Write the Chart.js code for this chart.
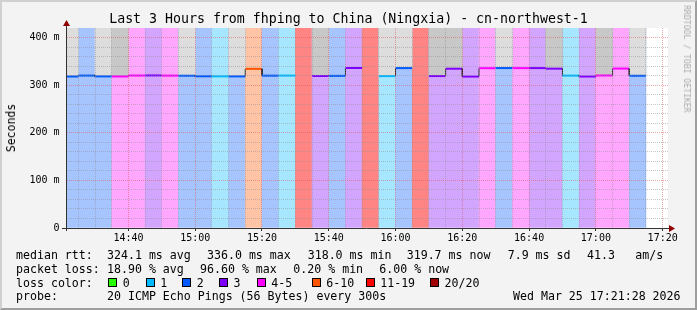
<!DOCTYPE html>
<html>
<head>
<meta charset="utf-8">
<script src="https://cdn.jsdelivr.net/npm/chart.js"></script>
<style>
  body { margin: 0; }
  #frame { position: absolute; left: 0; top: 0; width: 697px; height: 310px; box-sizing: border-box;
           background: #f3f3f3; border-style: solid; border-width: 2px;
           border-color: #d0d0d0 #9e9e9e #9e9e9e #d0d0d0; }
  #plot { position: absolute; left: 0; top: 0; }
  .t { position: absolute; font-family: 'DejaVu Sans Mono', monospace; white-space: pre; line-height: normal; color: #000; }
  .box { position: absolute; width: 9px; height: 9px; box-sizing: border-box; border: 1px solid #000; }
</style>
</head>
<body>
<div id="frame"></div>
<canvas id="plot" width="697" height="310"></canvas>
<div id="texts"></div>
<script>
// 5 minute slots (start time of each rrd step)
const slotLabels = ['14:20','14:25','14:30','14:35','14:40','14:45','14:50','14:55',
  '15:00','15:05','15:10','15:15','15:20','15:25','15:30','15:35','15:40','15:45','15:50','15:55',
  '16:00','16:05','16:10','16:15','16:20','16:25','16:30','16:35','16:40','16:45','16:50','16:55',
  '17:00','17:05','17:10'];
// median rtt in ms (null = 100% loss)
const medianRtt = [318.2, 320.1, 318.4, 318.3, 320.2, 320.4, 320.0, 319.8,
  318.6, 318.5, 318.4, 334.2, 319.9, 320.1, null, 319.2, 319.5, 336.0, null, 319.0,
  335.8, null, 319.1, 334.5, 318.0, 335.6, 335.9, 335.7, 335.8, 334.6, 320.0, 318.1,
  320.3, 334.8, 319.7];
// loss class per slot (index into lossLabels)
const lossBin = [2, 2, 2, 4, 4, 3, 4, 2, 2, 1, 2, 5, 2, 1, 7, 3, 2, 3, 7, 1,
  2, 7, 3, 3, 3, 4, 2, 4, 3, 3, 1, 3, 4, 4, 2];
// smoke above the median: 0 none, 1 light, 2 dark
const smokeShade = [1, 0, 1, 2, 0, 0, 0, 1, 0, 0, 1, 0, 0, 0, 0, 2, 0, 0, 0, 1,
  1, 0, 2, 2, 0, 0, 1, 0, 0, 2, 0, 0, 2, 0, 1];
const xTickLabels = ['14:40','15:00','15:20','15:40','16:00','16:20','16:40','17:00','17:20'];
const yTickValues = [0, 100, 200, 300, 400];
const lossLabels = ['0', '1', '2', '3', '4-5', '6-10', '11-19', '20/20'];

const lossColors = ['#26ff00', '#00b8ff', '#0059ff', '#7e00ff', '#ff00ff', '#ff5500', '#ff0000', '#a10000'];
const fillColors = ['#a8ffa6', '#a6e6ff', '#a6c5ff', '#d2a6ff', '#ffa6ff', '#ffc4a6', '#ffa6a6', '#ff8585'];
const smokeColors = [null, '#dddddd', '#c8c8c8'];

const xMin = 861.6, xMax = 1041.6, yMax = 420, step = 5;
const toMin = s => { const p = s.split(':'); return +p[0] * 60 + +p[1]; };
const fmt = v => String(Math.floor(v / 60)).padStart(2, '0') + ':' + String(v % 60).padStart(2, '0');
const starts = slotLabels.map(toMin);

const bgData = starts.map(s => ({ x: s + step / 2, y: [0, yMax] }));
const smokeData = [];
starts.forEach((s, i) => {
    if (smokeShade[i] && medianRtt[i] != null) smokeData.push({ x: s + step / 2, y: [medianRtt[i], yMax], c: smokeColors[smokeShade[i]] });
});
const lineData = [];
starts.forEach((s, i) => {
    if (medianRtt[i] == null) { lineData.push({ x: s, y: null }); return; }
    lineData.push({ x: s, y: medianRtt[i] }, { x: s + step, y: medianRtt[i] });
});
const isVert = c => lineData[c.p0DataIndex].x === lineData[c.p1DataIndex].x;

const major = 'rgba(222,80,80,0.5)', minor = 'rgba(143,143,143,0.5)';

const frameDeco = {
    id: 'frameDeco',
    beforeDraw(ch) {
        const a = ch.chartArea, c = ch.ctx;
        c.save();
        c.fillStyle = '#fff';
        c.fillRect(a.left, a.top, a.right - a.left, a.bottom - a.top);
        c.restore();
    },
    afterDraw(ch) {
        const a = ch.chartArea, c = ch.ctx;
        c.save();
        c.lineWidth = 1;
        c.strokeStyle = '#333';
        c.beginPath();
        c.moveTo(a.left - 5, a.bottom + 0.5); c.lineTo(a.right + 3, a.bottom + 0.5);
        c.moveTo(a.left - 0.5, a.bottom + 3); c.lineTo(a.left - 0.5, a.top - 4);
        c.stroke();
        c.fillStyle = '#900000';
        c.beginPath();
        c.moveTo(a.left - 0.5, a.top - 8); c.lineTo(a.left - 4, a.top - 2); c.lineTo(a.left + 3, a.top - 2); c.closePath();
        c.moveTo(a.right + 7, a.bottom + 0.5); c.lineTo(a.right + 1, a.bottom - 3); c.lineTo(a.right + 1, a.bottom + 4); c.closePath();
        c.fill();
        c.restore();
    }
};

Chart.defaults.font.family = "'DejaVu Sans Mono', monospace";
Chart.defaults.font.size = 10;
Chart.defaults.color = '#000';

new Chart(document.getElementById('plot'), {
    type: 'bar',
    data: {
        datasets: [
            {
                type: 'line', data: lineData, pointRadius: 0, borderWidth: 2, spanGaps: false, clip: 0,
                borderColor: '#0059ff',
                segment: {
                    borderColor: c => isVert(c) ? '#222' : lossColors[lossBin[starts.indexOf(lineData[c.p0DataIndex].x)]],
                    borderWidth: c => isVert(c) ? 1 : 2
                }
            },
            {
                data: smokeData, clip: 0, grouped: false, barPercentage: 1, categoryPercentage: 1,
                backgroundColor: smokeData.map(d => d.c), borderWidth: 0
            },
            {
                data: bgData, clip: 0, grouped: false, barPercentage: 1, categoryPercentage: 1,
                backgroundColor: lossBin.map(b => fillColors[b]), borderWidth: 0
            }
        ]
    },
    options: {
        responsive: false,
        animation: false,
        layout: { padding: { left: 0, right: 29, top: 28, bottom: 62 } },
        plugins: { legend: { display: false }, tooltip: { enabled: false }, title: { display: false } },
        scales: {
            x: {
                type: 'linear', min: xMin, max: xMax, offset: false,
                afterBuildTicks: sc => {
                    const t = [];
                    for (let v = Math.ceil(xMin / step) * step; v <= xMax; v += step) t.push({ value: v });
                    sc.ticks = t;
                },
                afterFit: sc => { sc.height = 20; },
                ticks: {
                    autoSkip: false, maxRotation: 0, padding: 1,
                    callback: v => xTickLabels.includes(fmt(v)) ? fmt(v) : ''
                },
                grid: {
                    z: 1, offset: false, drawTicks: true, tickLength: 3,
                    color: c => c.tick && xTickLabels.includes(fmt(c.tick.value)) ? major : minor,
                    tickColor: c => c.tick && xTickLabels.includes(fmt(c.tick.value)) ? '#333' : 'rgba(0,0,0,0)'
                },
                border: { display: false, dash: [1, 1] }
            },
            y: {
                min: 0, max: yMax,
                afterBuildTicks: sc => {
                    const t = [];
                    for (let v = 0; v <= 400; v += 20) t.push({ value: v });
                    sc.ticks = t;
                },
                afterFit: sc => { sc.width = 67; },
                ticks: {
                    autoSkip: false, padding: 7.5,
                    callback: v => yTickValues.includes(v) ? (v === 0 ? '0' : v + ' m') : ''
                },
                grid: {
                    z: 1, drawTicks: false,
                    color: c => !c.tick || c.tick.value === 0 ? 'rgba(0,0,0,0)' : (c.tick.value % 100 === 0 ? major : minor)
                },
                border: { display: false, dash: [1, 1] }
            }
        }
    },
    plugins: [frameDeco]
});

// texts around the graph
const rttStats = ['324.1 ms avg', '336.0 ms max', '318.0 ms min', '319.7 ms now', '7.9 ms sd', '41.3', 'am/s'];
const rttX = [107, 207, 307.7, 406.7, 507.7, 587, 635.3];
const lossStats = ['18.90 % avg', '96.60 % max', '0.20 % min', '6.00 % now'];
const lossX = [107, 200, 293.3, 379.3];
const boxX = [108.3, 145.7, 182.3, 219, 256.7, 311.7, 365.7, 430];

const holder = document.getElementById('texts');
function put(str, x, base, size, extra) {
    const d = document.createElement('div');
    d.className = 't';
    d.textContent = str;
    d.style.fontSize = size + 'px';
    d.style.left = x + 'px';
    d.style.top = (base - 0.928 * size) + 'px';
    if (extra) Object.assign(d.style, extra);
    holder.appendChild(d);
    return d;
}
const fs = 11.6;
put('Last 3 Hours from fhping to China (Ningxia) - cn-northwest-1', 0, 23.5, 13.25, { width: '697px', textAlign: 'center' });
put('median rtt:', 16, 258.5, fs);
rttStats.forEach((s, i) => put(s, rttX[i], 258.5, fs));
put('packet loss:', 16, 272.5, fs);
lossStats.forEach((s, i) => put(s, lossX[i], 272.5, fs));
put('loss color:', 16, 286.5, fs);
lossLabels.forEach((s, i) => {
    const b = document.createElement('div');
    b.className = 'box';
    b.style.left = boxX[i] + 'px';
    b.style.top = '278px';
    b.style.background = lossColors[i];
    holder.appendChild(b);
    put(s, boxX[i] + 14.5, 286.5, fs);
});
put('probe:', 16, 300, fs);
put('20 ICMP Echo Pings (56 Bytes) every 300s', 107, 300, fs);
put('Wed Mar 25 17:21:28 2026', 513, 300, fs);

const yl = put('Seconds', 11, 127.5, 11.5);
yl.style.top = '127.5px';
yl.style.transform = 'translate(-50%,-50%) rotate(-90deg)';
const rr = put('RRDTOOL / TOBI OETIKER', 686.5, 59, 8.1, { color: '#ababab' });
rr.style.top = '59px';
rr.style.transform = 'translate(-50%,-50%) rotate(90deg)';
</script>
</body>
</html>
